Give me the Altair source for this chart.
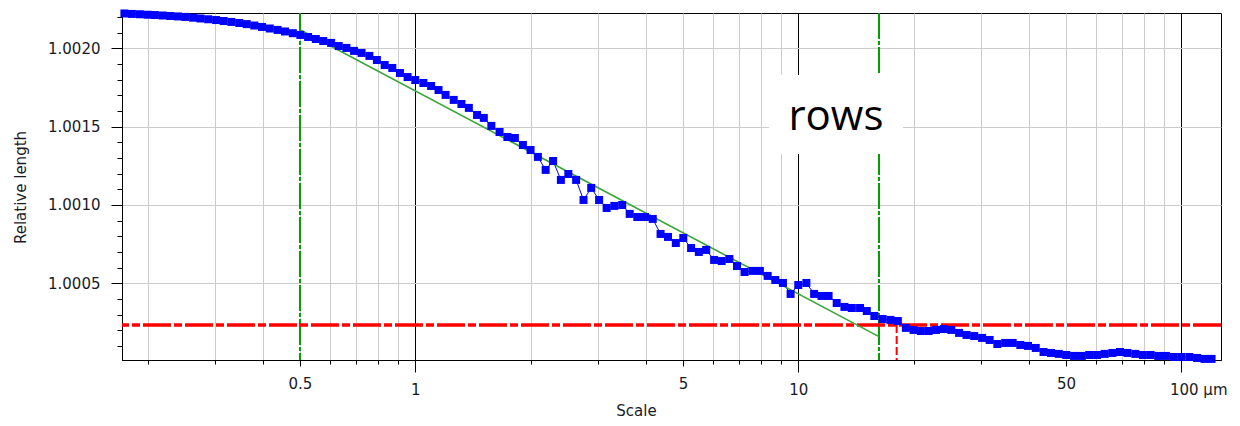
import altair as alt
import pandas as pd

# Measured relative length versus observation scale (µm)
scale_um = [
    0.174, 0.182, 0.191, 0.200, 0.209, 0.219, 0.229, 0.240, 0.251, 0.263,
    0.275, 0.288, 0.302, 0.316, 0.331, 0.347, 0.363, 0.380, 0.398, 0.417,
    0.437, 0.457, 0.479, 0.501, 0.525, 0.550, 0.575, 0.603, 0.631, 0.661,
    0.692, 0.724, 0.759, 0.794, 0.832, 0.871, 0.912, 0.955, 1.00, 1.05,
    1.10, 1.15, 1.20, 1.26, 1.32, 1.38, 1.45, 1.51, 1.58, 1.66,
    1.74, 1.82, 1.91, 2.00, 2.09, 2.19, 2.29, 2.40, 2.51, 2.63,
    2.75, 2.88, 3.02, 3.16, 3.31, 3.47, 3.63, 3.80, 3.98, 4.17,
    4.37, 4.57, 4.79, 5.01, 5.25, 5.50, 5.75, 6.03, 6.31, 6.61,
    6.92, 7.24, 7.59, 7.94, 8.32, 8.71, 9.12, 9.55, 10.0, 10.5,
    11.0, 11.5, 12.0, 12.6, 13.2, 13.8, 14.5, 15.1, 15.8, 16.6,
    17.4, 18.2, 19.1, 20.0, 20.9, 21.9, 22.9, 24.0, 25.1, 26.3,
    27.5, 28.8, 30.2, 31.6, 33.1, 34.7, 36.3, 38.0, 39.8, 41.7,
    43.7, 45.7, 47.9, 50.1, 52.5, 55.0, 57.5, 60.3, 63.1, 66.1,
    69.2, 72.4, 75.9, 79.4, 83.2, 87.1, 91.2, 95.5, 100, 105,
    110, 115, 120,
]
rel_length = [
    1.002223, 1.002220, 1.002218, 1.002215, 1.002213, 1.002210, 1.002207, 1.002204, 1.002201, 1.002196,
    1.002191, 1.002186, 1.002181, 1.002175, 1.002169, 1.002162, 1.002155, 1.002146, 1.002137, 1.002127,
    1.002118, 1.002108, 1.002097, 1.002086, 1.002073, 1.002060, 1.002047, 1.002035, 1.002015, 1.002003,
    1.001984, 1.001971, 1.001952, 1.001926, 1.001894, 1.001875, 1.001843, 1.001817, 1.001798, 1.001779,
    1.001760, 1.001734, 1.001703, 1.001671, 1.001645, 1.001620, 1.001575, 1.001556, 1.001505, 1.001466,
    1.001434, 1.001428, 1.001383, 1.001351, 1.001307, 1.001224, 1.001281, 1.001160, 1.001198, 1.001160,
    1.001032, 1.001109, 1.001032, 1.000981, 1.000994, 1.001000, 1.000943, 1.000923, 1.000923, 1.000911,
    1.000815, 1.000796, 1.000757, 1.000789, 1.000725, 1.000700, 1.000713, 1.000649, 1.000642, 1.000655,
    1.000610, 1.000572, 1.000579, 1.000579, 1.000547, 1.000521, 1.000502, 1.000432, 1.000489, 1.000502,
    1.000432, 1.000419, 1.000419, 1.000374, 1.000349, 1.000342, 1.000342, 1.000323, 1.000291, 1.000272,
    1.000266, 1.000259, 1.000215, 1.000202, 1.000195, 1.000195, 1.000202, 1.000208, 1.000202, 1.000183,
    1.000170, 1.000163, 1.000151, 1.000138, 1.000112, 1.000119, 1.000119, 1.000106, 1.000100, 1.000087,
    1.000061, 1.000055, 1.000049, 1.000042, 1.000036, 1.000036, 1.000042, 1.000042, 1.000049, 1.000055,
    1.000061, 1.000055, 1.000049, 1.000042, 1.000042, 1.000036, 1.000036, 1.000029, 1.000029, 1.000029,
    1.000023, 1.000017, 1.000017,
]

# Fractal fit range and the fitted regression line
fit_bounds_um = [0.5, 16.25]
fit_line_scale = [0.5, 16.25]
fit_line_length = [1.002119, 1.000159]

# Smooth-rough crossover threshold
threshold_length = 1.000234
crossover_scale = 18.07

# Annotation box
label_text = "rows"
label_box_x = [8.38, 18.76]
label_box_y = [1.001326, 1.001830]
label_pos = [12.54, 1.001562]

x_ticks = [0.2, 0.3, 0.4, 0.5, 0.6, 0.7, 0.8, 0.9,
           1, 2, 3, 4, 5, 6, 7, 8, 9,
           10, 20, 30, 40, 50, 60, 70, 80, 90, 100]
y_ticks = [1.0001, 1.0002, 1.0003, 1.0004, 1.0005, 1.0006, 1.0007, 1.0008,
           1.0009, 1.0010, 1.0011, 1.0012, 1.0013, 1.0014, 1.0015, 1.0016,
           1.0017, 1.0018, 1.0019, 1.0020, 1.0021, 1.0022]

x_domain = [0.1715, 127]
y_domain = [1.00001, 1.002226]

FONT = "DejaVu Sans"
TEXT_COLOR = "#1a1a26"

x_scale = alt.Scale(type="log", domain=x_domain, nice=False)
y_scale = alt.Scale(domain=y_domain, nice=False, zero=False)

decade_test = "indexof([1, 10, 100], datum.value) >= 0"
half_test = "indexof([0.5, 5, 50], datum.value) >= 0"
major_y_test = "round(datum.value * 10000) % 5 == 0"

x_axis = alt.Axis(
    values=x_ticks,
    title="Scale",
    labelExpr="datum.value == 100 ? '100 µm' : (indexof([0.5, 1, 5, 10, 50], datum.value) >= 0 ? format(datum.value, '~g') : '')",
    labelOverlap=False,
    labelFlush=False,
    labelFont=FONT,
    labelFontSize=15,
    labelColor=TEXT_COLOR,
    labelPadding=10,
    labelOffset={"condition": {"test": "datum.value == 100", "value": 17}, "value": 0},
    grid=True,
    gridColor={"condition": {"test": decade_test, "value": "#000000"}, "value": "#cccccc"},
    gridWidth=1,
    tickColor="#000000",
    tickSize={"condition": [{"test": decade_test, "value": 12}, {"test": half_test, "value": 6}], "value": 4},
    domainColor="#000000",
    titleFont=FONT,
    titleFontSize=15,
    titleFontWeight="normal",
    titleColor=TEXT_COLOR,
    titleX=514,
    titleY=50,
    titleAlign="center",
    titleBaseline="middle",
)

y_axis = alt.Axis(
    values=y_ticks,
    title="Relative length",
    format=".4f",
    labelExpr=f"{major_y_test} ? datum.label : ''",
    labelOverlap=False,
    labelFlush=False,
    labelFont=FONT,
    labelFontSize=15,
    labelColor=TEXT_COLOR,
    labelPadding=11,
    grid=True,
    gridColor="#cccccc",
    gridOpacity={"condition": {"test": major_y_test, "value": 1}, "value": 0},
    tickColor="#000000",
    tickSize={"condition": {"test": major_y_test, "value": 11}, "value": 5},
    domainColor="#000000",
    titleFont=FONT,
    titleFontSize=15,
    titleFontWeight="normal",
    titleColor=TEXT_COLOR,
    titleX=-102,
    titleY=174,
    titleAngle=270,
    titleAlign="center",
    titleBaseline="middle",
)


def xenc(field):
    return alt.X(field, scale=x_scale, axis=x_axis)


def yenc(field):
    return alt.Y(field, scale=y_scale, axis=y_axis)


profile = pd.DataFrame({"scale": scale_um, "length": rel_length})
fit_df = pd.DataFrame({"scale": fit_line_scale, "length": fit_line_length})
bounds_df = pd.DataFrame({"scale": fit_bounds_um})
threshold_df = pd.DataFrame({"length": [threshold_length]})
crossover_df = pd.DataFrame({"scale": [crossover_scale], "length": [threshold_length], "bottom": [y_domain[0]]})
box_df = pd.DataFrame({"scale": [label_box_x[0]], "x2": [label_box_x[1]],
                       "length": [label_box_y[0]], "y2": [label_box_y[1]]})
text_df = pd.DataFrame({"scale": [label_pos[0]], "length": [label_pos[1]], "txt": [label_text]})

profile_line = alt.Chart(profile).mark_line(color="#0000ff", strokeWidth=1).encode(
    x=xenc("scale:Q"), y=yenc("length:Q"),
)

bounds = alt.Chart(bounds_df).mark_rule(
    color="#00a000", strokeWidth=2, strokeDash=[26, 2, 4, 2]
).encode(x=xenc("scale:Q"))

threshold = alt.Chart(threshold_df).mark_rule(
    color="#ff0000", strokeWidth=3.5, strokeDash=[28, 3, 8, 3]
).encode(y=yenc("length:Q"))

crossover = alt.Chart(crossover_df).mark_rule(
    color="#ff0000", strokeWidth=2, strokeDash=[8, 3]
).encode(x=xenc("scale:Q"), y=yenc("length:Q"), y2="bottom:Q")

fit = alt.Chart(fit_df).mark_line(color="#3aa53a", strokeWidth=1.6).encode(
    x=xenc("scale:Q"), y=yenc("length:Q"),
)

profile_pts = alt.Chart(profile).mark_square(color="#0000ff", size=64, opacity=1).encode(
    x=xenc("scale:Q"), y=yenc("length:Q"),
)

box = alt.Chart(box_df).mark_rect(color="#ffffff", opacity=1).encode(
    x=xenc("scale:Q"), x2="x2:Q", y=yenc("length:Q"), y2="y2:Q",
)
label = alt.Chart(text_df).mark_text(
    font="Open Sans", fontSize=42, color="#000000", align="center", baseline="middle"
).encode(
    x=xenc("scale:Q"), y=yenc("length:Q"), text="txt:N",
)

chart = alt.layer(
    profile_line, bounds, threshold, crossover, fit, profile_pts, box, label
).properties(
    width=1099,
    height=347,
    autosize=alt.AutoSizeParams(type="none"),
    padding={"left": 122, "top": 13, "right": 19, "bottom": 66},
    background="#ffffff",
).configure_view(
    stroke="#000000", strokeWidth=1
)

chart.save("out.html", embed_options={"renderer": "svg", "actions": False})
